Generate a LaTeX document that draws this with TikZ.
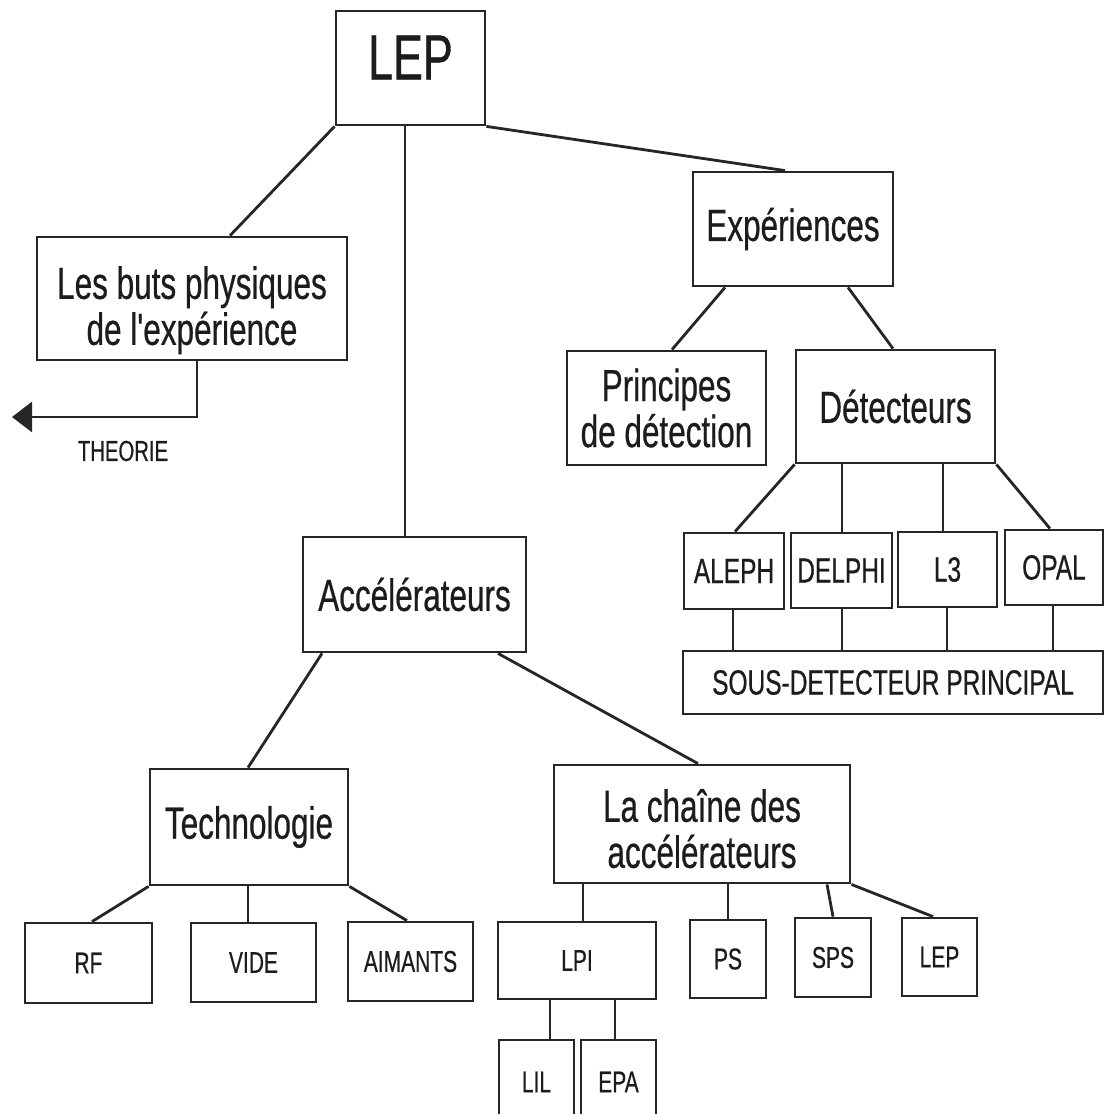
\documentclass[tikz,border=0pt]{standalone}
\usepackage{fontspec}
\newfontfamily\hv{Liberation Sans}[FakeStretch=0.7,FakeBold=0.5]
\usetikzlibrary{arrows.meta}
\definecolor{ink}{RGB}{38,38,38}
\definecolor{txt}{RGB}{28,28,28}
\tikzset{
  box/.style={draw=ink, line width=2.8pt, inner sep=0pt, align=center, text=txt},
  conn/.style={draw=ink, line width=2.8pt},
  fbig/.style={font=\hv\fontsize{64}{66}\selectfont},
  fmid/.style={font=\hv\fontsize{45}{46}\selectfont},
  fdet/.style={font=\hv\fontsize{35}{37}\selectfont},
  fsmall/.style={font=\hv\fontsize{30}{32}\selectfont},
  fnote/.style={font=\hv\fontsize{29}{31}\selectfont, text=txt, inner sep=0pt},
}
\begin{document}
\begin{tikzpicture}[x=1pt,y=-1pt]
\useasboundingbox (0,0) rectangle (1109,1114);
\fill[white] (0,0) rectangle (1109,1114);
\clip (0,0) rectangle (1109,1114);

% level 0
\node[box,fbig,minimum width=149pt,minimum height=114pt] (lep) at (410.5,68) {LEP\rule[-21pt]{0pt}{21pt}};

% level 1
\node[box,fmid,minimum width=310pt,minimum height=123pt] (buts) at (192,298.5) {\rule{0pt}{56pt}Les buts physiques\\de l'expérience};
\node[box,fmid,minimum width=200pt,minimum height=114pt] (exp) at (793,229) {Expériences};
\node[box,fmid,minimum width=223pt,minimum height=115pt] (acc) at (414.5,594.5) {Accélérateurs};

% experiences branch
\node[box,fmid,minimum width=199pt,minimum height=114pt] (princ) at (666.5,408) {Principes\\de détection};
\node[box,fmid,minimum width=199pt,minimum height=113pt] (detect) at (895.5,406.5) {Détecteurs};
\node[box,fdet,minimum width=100pt,minimum height=76pt] (aleph) at (734,571) {ALEPH};
\node[box,fdet,minimum width=101pt,minimum height=75pt] (delphi) at (841.5,570.5) {DELPHI};
\node[box,fdet,minimum width=99pt,minimum height=75pt] (l3) at (947.5,569.5) {L3};
\node[box,fdet,minimum width=98pt,minimum height=75pt] (opal) at (1054,567.5) {OPAL};
\node[box,fdet,minimum width=420pt,minimum height=63pt] (sous) at (893,682.5) {SOUS-DETECTEUR PRINCIPAL};

% accelerateurs branch
\node[box,fmid,minimum width=198pt,minimum height=116pt] (tech) at (249,827) {Technologie};
\node[box,fsmall,minimum width=127pt,minimum height=80pt] (rf) at (88.5,963) {RF};
\node[box,fsmall,minimum width=125pt,minimum height=79pt] (vide) at (253.5,962.5) {VIDE};
\node[box,fsmall,minimum width=125pt,minimum height=79pt] (aim) at (410.5,961.5) {AIMANTS};
\node[box,fmid,minimum width=296pt,minimum height=118pt] (chain) at (702,824) {\rule{0pt}{42pt}La chaîne des\\accélérateurs};
\node[box,fsmall,minimum width=158pt,minimum height=77pt] (lpi) at (577,960.5) {LPI};
\node[box,fsmall,minimum width=76pt,minimum height=78pt] (ps) at (728,959) {PS};
\node[box,fsmall,minimum width=76pt,minimum height=79pt] (sps) at (833,957.5) {SPS};
\node[box,fsmall,minimum width=75pt,minimum height=78pt] (lepsm) at (939.5,957) {LEP};
\node[box,fsmall,minimum width=75pt,minimum height=84pt] (lil) at (536.5,1082) {LIL};
\node[box,fsmall,minimum width=75pt,minimum height=84pt] (epa) at (618.5,1082) {EPA};

% theory pointer
\coordinate (theo) at (12,417);
\node[fnote] (theorie) at (123,451) {THEORIE};

% connectors from LEP
\draw[conn] (lep.south west) -- ([xshift=38pt]buts.north);
\draw[conn] ([xshift=-5.5pt]lep.south) -- ([xshift=-9.5pt]acc.north);
\draw[conn] (lep.south east) -- ([xshift=-8pt]exp.north);
\draw[conn,-{Triangle[length=20pt,width=30pt]}] ([xshift=5pt]buts.south) |- (theo);

% experiences
\draw[conn] ([xshift=-68pt]exp.south) -- ([xshift=5.5pt]princ.north);
\draw[conn] ([xshift=55pt]exp.south) -- ([xshift=-2.5pt]detect.north);
\draw[conn] (detect.south west) -- ([xshift=1pt]aleph.north);
\draw[conn] ([xshift=-53.5pt]detect.south) -- ([xshift=0.5pt]delphi.north);
\draw[conn] ([xshift=47.5pt]detect.south) -- ([xshift=-4.5pt]l3.north);
\draw[conn] (detect.south east) -- ([xshift=-4pt]opal.north);
\draw[conn] ([xshift=-1pt]aleph.south) -- ([xshift=-160pt]sous.north);
\draw[conn] ([xshift=0.5pt]delphi.south) -- ([xshift=-51pt]sous.north);
\draw[conn] ([xshift=-0.5pt]l3.south) -- ([xshift=54pt]sous.north);
\draw[conn] ([xshift=-1pt]opal.south) -- ([xshift=160pt]sous.north);

% accelerateurs
\draw[conn] ([xshift=-92.5pt]acc.south) -- ([xshift=-1pt]tech.north);
\draw[conn] ([xshift=83.5pt]acc.south) -- ([xshift=-4pt]chain.north);
\draw[conn] (tech.south west) -- ([xshift=3.5pt]rf.north);
\draw[conn] ([xshift=-1pt]tech.south) -- ([xshift=-5.5pt]vide.north);
\draw[conn] (tech.south east) -- ([xshift=-3.5pt]aim.north);
\draw[conn] ([xshift=-119pt]chain.south) -- ([xshift=6pt]lpi.north);
\draw[conn] ([xshift=26pt]chain.south) -- (ps.north);
\draw[conn] ([xshift=125pt]chain.south) -- (sps.north);
\draw[conn] (chain.south east) -- ([xshift=-6.5pt]lepsm.north);
\draw[conn] ([xshift=-27pt]lpi.south) -- ([xshift=13.5pt]lil.north);
\draw[conn] ([xshift=38pt]lpi.south) -- ([xshift=-3.5pt]epa.north);
\end{tikzpicture}
\end{document}
